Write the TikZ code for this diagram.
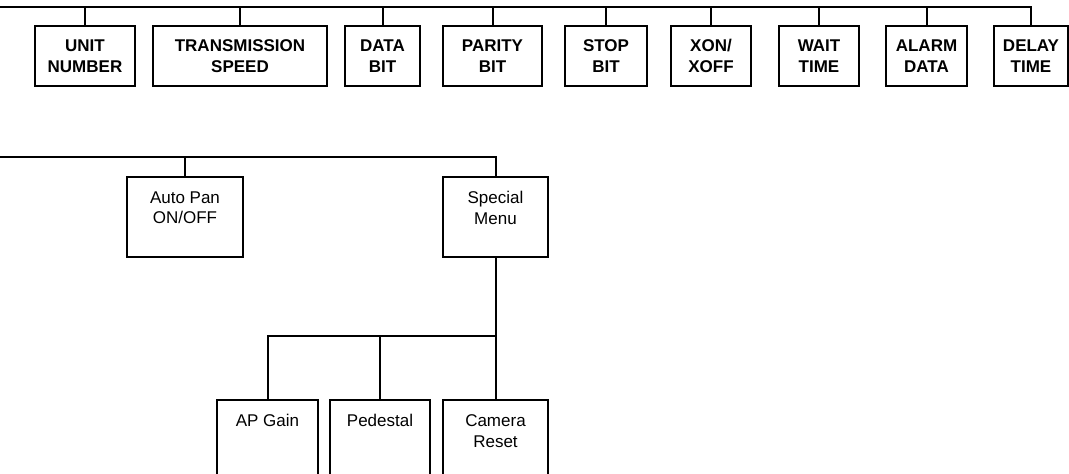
\documentclass[tikz,border=0pt]{standalone}
\usepackage{fontspec}
\setmainfont{Liberation Sans}
\begin{document}
\begin{tikzpicture}[x=1pt, y=-1pt,
  topbox/.style={draw, line width=1.8pt, minimum height=60pt, inner sep=0pt, align=center,
    font=\fontsize{17}{21.5}\selectfont\bfseries},
  menubox/.style={draw, line width=1.8pt, inner sep=0pt},
  boxtext/.style={anchor=north, yshift=-12pt, align=center, font=\fontsize{17}{20.5}\selectfont},
  wire/.style={line width=2pt}]
 \useasboundingbox (0,0) rectangle (1069,474);
 \clip (0,0) rectangle (1069,474);

 % setup items
 \node[topbox, minimum width=100pt] (unit) at (85, 56) {UNIT\\NUMBER};
 \node[topbox, minimum width=174pt] (speed) at (240, 56) {TRANSMISSION\\SPEED};
 \node[topbox, minimum width=75pt] (databit) at (382.5, 56) {DATA\\BIT};
 \node[topbox, minimum width=99pt] (parity) at (492.5, 56) {PARITY\\BIT};
 \node[topbox, minimum width=82pt] (stopbit) at (606, 56) {STOP\\BIT};
 \node[topbox, minimum width=80pt] (xon) at (711, 56) {XON/\\XOFF};
 \node[topbox, minimum width=80pt] (wait) at (819, 56) {WAIT\\TIME};
 \node[topbox, minimum width=81pt] (alarm) at (926.5, 56) {ALARM\\DATA};
 \node[topbox, minimum width=74pt] (delay) at (1031, 56) {DELAY\\TIME};

 \coordinate (bus1) at (0, 7);
 \draw[wire] (bus1) -- (bus1 -| delay.north) -- (delay.north);
 \foreach \n in {unit, speed, databit, parity, stopbit, xon, wait, alarm}
  \draw[wire] (bus1 -| \n.north) -- (\n.north);

 % menu items
 \node[menubox, minimum width=116pt, minimum height=80pt,
   label={[boxtext]north:Auto Pan\\ON/OFF}] (autopan) at (185, 217) {};
 \node[menubox, minimum width=105pt, minimum height=80pt,
   label={[boxtext]north:Special\\Menu}] (special) at (495.5, 217) {};

 \coordinate (bus2) at (0, 157);
 \draw[wire] (bus2) -- (bus2 -| special.north) -- (special.north);
 \draw[wire] (bus2 -| autopan.north) -- (autopan.north);

 % special menu items
 \node[menubox, minimum width=101pt, minimum height=100pt,
   label={[boxtext]north:AP Gain}] (apgain) at (267.5, 450) {};
 \node[menubox, minimum width=100pt, minimum height=100pt,
   label={[boxtext]north:Pedestal}] (pedestal) at (380, 450) {};
 \node[menubox, minimum width=105pt, minimum height=100pt,
   label={[boxtext]north:Camera\\Reset}] (camreset) at (495.5, 450) {};

 \coordinate (bus3) at (0, 336);
 \draw[wire] (special.south) -- (special.south |- bus3) -- (apgain.north |- bus3) -- (apgain.north);
 \draw[wire] (pedestal.north |- bus3) -- (pedestal.north);
 \draw[wire] (special.south |- bus3) -- (camreset.north);
\end{tikzpicture}
\end{document}
